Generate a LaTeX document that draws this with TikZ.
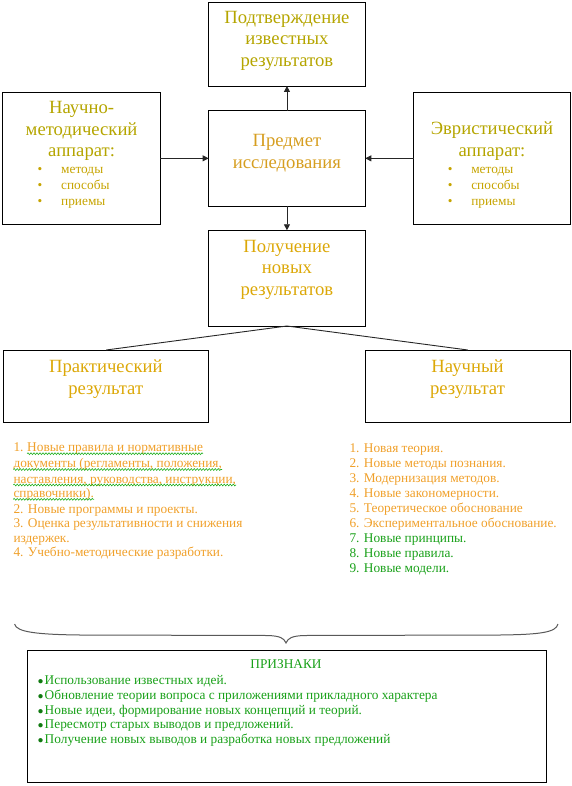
\documentclass[tikz,border=0pt]{standalone}
\usepackage{fontspec}
\setmainfont{Liberation Serif}
\usetikzlibrary{arrows.meta,decorations.pathmorphing}
\definecolor{cT}{HTML}{B5A500}
\definecolor{cP}{HTML}{D69E20}
\definecolor{cN}{HTML}{DCA808}
\definecolor{cS}{HTML}{C6A400}
\definecolor{cO}{HTML}{F0A02A}
\definecolor{cG}{HTML}{18A018}
\definecolor{cGd}{HTML}{107A10}
\definecolor{cW}{HTML}{22B022}
\newcommand\gbul{{\fontsize{10}{0}\selectfont\color{cGd}●}\hspace{1pt}}
\begin{document}
\begin{tikzpicture}[x=1pt,y=-1pt,
  box/.style={draw=black,line width=0.9pt,inner sep=0pt,outer sep=0pt,anchor=north west},
  big/.style={font=\fontsize{18.67}{21.5}\selectfont,align=center,inner sep=0pt},
  small/.style={font=\fontsize{13.33}{16}\selectfont,align=left,inner sep=0pt},
  lst/.style={font=\fontsize{13.33}{15}\selectfont,inner sep=0pt,anchor=base west,text=cO},
  arr/.style={draw=black!85,line width=0.8pt,-{Triangle[length=6pt,width=6pt]}},
  link/.style={draw=black!85,line width=0.9pt},
  wave/.style={draw=cW,line width=0.6pt,decorate,decoration={snake,amplitude=0.9pt,segment length=3pt}}
]
\useasboundingbox (0,0) rectangle (571,786);
% boxes
\node[box,minimum width=156.7pt,minimum height=83.3pt] (top) at (208.6,2.7) {};
\node[box,minimum width=157.4pt,minimum height=131.3pt] (lft) at (2.9,92.7) {};
\node[box,minimum width=156.7pt,minimum height=95.3pt] (subj) at (208.6,110.7) {};
\node[box,minimum width=156.7pt,minimum height=131.3pt] (rgt) at (413.6,92.7) {};
\node[box,minimum width=156.7pt,minimum height=95.7pt] (newres) at (208.6,230.3) {};
\node[box,minimum width=204.9pt,minimum height=72.3pt] (prac) at (3.7,350) {};
\node[box,minimum width=205pt,minimum height=72.3pt] (sci) at (365.3,350) {};
\node[box,minimum width=518.5pt,minimum height=131.6pt] (signs) at (27.5,650.7) {};
% box texts
\node[big,text=cT] (topT) at (286.9,40.5) {Подтверждение\\известных\\результатов};
\node[big,text=cT] (lftT) at (81.6,131) {Научно-\\методический\\аппарат:};
\node[small,text=cS,anchor=west] (lftL) at (37.5,188) {\makebox[23.5pt][l]{•}методы\\\makebox[23.5pt][l]{•}способы\\\makebox[23.5pt][l]{•}приемы};
\node[big,text=cT] (rgtT) at (492,141) {Эвристический\\аппарат:};
\node[small,text=cS,anchor=west] (rgtL) at (447.6,188) {\makebox[23.5pt][l]{•}методы\\\makebox[23.5pt][l]{•}способы\\\makebox[23.5pt][l]{•}приемы};
\node[big,text=cP] (subjT) at (286.9,153) {Предмет\\исследования};
\node[big,text=cN] (newresT) at (286.9,269.5) {Получение\\новых\\результатов};
\node[big,text=cN] (pracT) at (105.8,379.2) {Практический\\результат};
\node[big,text=cN] (sciT) at (467.5,379.2) {Научный\\результат};
% connectors
\draw[arr] (subj.north) -- (top.south);
\draw[arr] (lft.east) -- (subj.west);
\draw[arr] (rgt.west) -- (subj.east);
\draw[arr] (subj.south) -- (newres.north);
\draw[link] (newres.south) -- (prac.north);
\draw[link] (newres.south) -- (sci.north);
% left list
\node[lst] (l1n) at (13.3,451.7) {1.};
\node[lst] (l1) at ([xshift=3.33pt]l1n.base east) {Новые правила и нормативные};
\node[lst] (l2) at (13.3,467.5) {документы (регламенты, положения,};
\node[lst] (l3) at (13.3,483) {наставления, руководства, инструкции,};
\node[lst] (l4) at (13.3,497.3) {справочники).};
\node[lst] (l5) at (13.3,513.2) {2. Новые программы и проекты.};
\node[lst] (l6) at (13.3,527.3) {3. Оценка результативности и снижения};
\node[lst] (l7) at (13.3,542.3) {издержек.};
\node[lst] (l8) at (13.3,556.7) {4. Учебно-методические разработки.};
\draw[wave] ([yshift=-2pt]l1.base west) -- ([yshift=-2pt]l1.base east);
\draw[wave] ([yshift=-2pt]l2.base west) -- ([yshift=-2pt]l2.base east);
\draw[wave] ([yshift=-2pt]l3.base west) -- ([yshift=-2pt]l3.base east);
\draw[wave] ([yshift=-2pt]l4.base west) -- ([yshift=-2pt]l4.base east);
% right list
\node[small,anchor=west,font=\fontsize{13.33}{15}\selectfont] (rlist) at (349.3,509.2) {\color{cO}1. Новая теория.\\\color{cO}2. Новые методы познания.\\\color{cO}3. Модернизация методов.\\\color{cO}4. Новые закономерности.\\\color{cO}5. Теоретическое обоснование\\\color{cO}6. Экспериментальное обоснование.\\\color{cG}7. Новые принципы.\\\color{cG}8. Новые правила.\\\color{cG}9. Новые модели.};
% brace
\draw[draw=black!65,line width=1pt] (14.6,624) .. controls (16,632.5) and (40,634.5) .. (80,635) -- (268,635.5) .. controls (280,636) and (284,638) .. (286,643) .. controls (288,638) and (292,636) .. (304,635.5) -- (500,635) .. controls (540,634.5) and (556,632.5) .. (558,624);
% signs
\node[small,text=cG] (signsT) at (286,664.5) {ПРИЗНАКИ};
\node[small,text=cG,anchor=west,font=\fontsize{13.33}{14.7}\selectfont] (signsL) at (37.5,711) {\gbul Использование известных идей.\\\gbul Обновление теории вопроса с приложениями прикладного характера\\\gbul Новые идеи, формирование новых концепций и теорий.\\\gbul Пересмотр старых выводов и предложений.\\\gbul Получение новых выводов и разработка новых предложений};
\end{tikzpicture}
\end{document}
